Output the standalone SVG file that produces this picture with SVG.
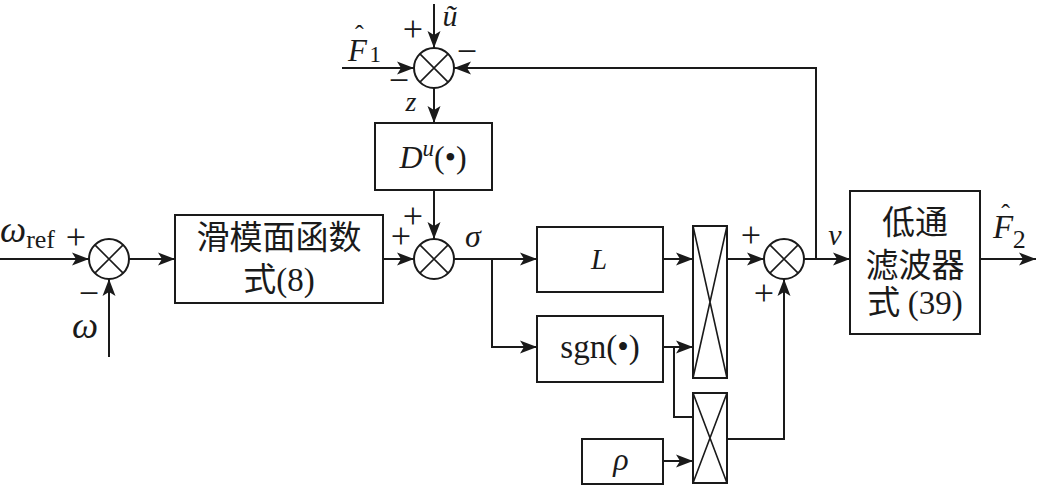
<svg xmlns="http://www.w3.org/2000/svg" width="1040" height="486" viewBox="0 0 1040 486">
<defs>
<marker id="ar" markerUnits="userSpaceOnUse" markerWidth="18" markerHeight="14" refX="17" refY="7" orient="auto">
<path d="M0,0.5 L17,7 L0,13.5 L4,7 z" fill="#1a1a1a"/>
</marker>
<style>
.ln{fill:none;stroke:#1a1a1a;stroke-width:2}
.bx{fill:#fff;stroke:#1a1a1a;stroke-width:2}
.x{stroke:#1a1a1a;stroke-width:1.6}
.t{font-family:"Liberation Serif","Times New Roman",serif;fill:#1a1a1a}
.i{font-style:italic}
.cj{font-family:"Noto Sans CJK SC",sans-serif;fill:#1a1a1a;font-size:33px}
.pm{font-family:"Liberation Serif","Times New Roman",serif;font-size:36px;fill:#1a1a1a;text-anchor:middle}
</style>
</defs>
<rect width="1040" height="486" fill="#fff"/>

<g id="connectors">
<path class="ln" d="M0,259 H89" marker-end="url(#ar)"/>
<path class="ln" d="M109,357 V279" marker-end="url(#ar)"/>
<path class="ln" d="M129,259 H175" marker-end="url(#ar)"/>
<path class="ln" d="M383,259 H414" marker-end="url(#ar)"/>
<path class="ln" d="M434,190 V239" marker-end="url(#ar)"/>
<path class="ln" d="M454,259 H537" marker-end="url(#ar)"/>
<path class="ln" d="M492,259 V347 H537" marker-end="url(#ar)"/>
<path class="ln" d="M663,259 H693" marker-end="url(#ar)"/>
<path class="ln" d="M663,347 H693" marker-end="url(#ar)"/>
<path class="ln" d="M674,347 V417 H693"/>
<path class="ln" d="M663,461 H693" marker-end="url(#ar)"/>
<path class="ln" d="M727,259 H764" marker-end="url(#ar)"/>
<path class="ln" d="M727,439 H784 V279" marker-end="url(#ar)"/>
<path class="ln" d="M804,259 H850" marker-end="url(#ar)"/>
<path class="ln" d="M816,259 V68 H454" marker-end="url(#ar)"/>
<path class="ln" d="M342,68 H414" marker-end="url(#ar)"/>
<path class="ln" d="M434,4 V48" marker-end="url(#ar)"/>
<path class="ln" d="M434,88 V123" marker-end="url(#ar)"/>
<path class="ln" d="M980,259 H1036" marker-end="url(#ar)"/>
</g>

<g id="sum1">
<circle class="bx" cx="109" cy="259" r="20"/>
<path class="x" d="M94.9,244.9 L123.1,273.1 M123.1,244.9 L94.9,273.1"/>
</g>
<g id="sumTop">
<circle class="bx" cx="434" cy="68" r="20"/>
<path class="x" d="M419.9,53.9 L448.1,82.1 M448.1,53.9 L419.9,82.1"/>
</g>
<g id="sum2">
<circle class="bx" cx="434" cy="259" r="20"/>
<path class="x" d="M419.9,244.9 L448.1,273.1 M448.1,244.9 L419.9,273.1"/>
</g>
<g id="sum3">
<circle class="bx" cx="784" cy="259" r="20"/>
<path class="x" d="M769.9,244.9 L798.1,273.1 M798.1,244.9 L769.9,273.1"/>
</g>

<g id="smc">
<rect class="bx" x="175" y="215" width="208" height="88"/>
<text class="cj" x="279" y="249" text-anchor="middle">滑模面函数</text>
<text class="cj" x="279" y="291" text-anchor="middle">式<tspan style="font-family:'Liberation Serif','Times New Roman',serif">(8)</tspan></text>
</g>

<g id="du">
<rect class="bx" x="375" y="123" width="117" height="67"/>
<text class="t" x="433" y="168" font-size="32" text-anchor="middle"><tspan class="i">D</tspan><tspan class="i" font-size="23" dy="-12">u</tspan><tspan dy="12">(•)</tspan></text>
</g>

<g id="Lbox">
<rect class="bx" x="537" y="227" width="126" height="65"/>
<text class="t i" x="599" y="269" font-size="29" text-anchor="middle">L</text>
</g>

<g id="sgn">
<rect class="bx" x="537" y="316" width="126" height="66"/>
<text class="t" x="600" y="358" font-size="33" text-anchor="middle">sgn(•)</text>
</g>

<g id="rho">
<rect class="bx" x="582" y="439" width="81" height="45"/>
<text class="t i" x="621" y="470" font-size="32" text-anchor="middle">ρ</text>
</g>

<g id="mult1">
<rect class="bx" x="693" y="226" width="34" height="152"/>
<path class="x" d="M693,226 L727,378 M727,226 L693,378"/>
</g>
<g id="mult2">
<rect class="bx" x="693" y="393" width="34" height="90"/>
<path class="x" d="M693,393 L727,483 M727,393 L693,483"/>
</g>

<g id="lpf">
<rect class="bx" x="850" y="191" width="130" height="143"/>
<text class="cj" x="915" y="234" text-anchor="middle">低通</text>
<text class="cj" x="915" y="277" text-anchor="middle">滤波器</text>
<text class="cj" x="915" y="314" text-anchor="middle">式 <tspan style="font-family:'Liberation Serif','Times New Roman',serif">(39)</tspan></text>
</g>

<g id="labels">
<text class="t" x="0" y="242" font-size="37"><tspan class="i">ω</tspan><tspan font-size="26" dy="6">ref</tspan></text>
<text class="pm" x="76" y="249">+</text>
<text class="pm" x="89" y="305">−</text>
<text class="t i" x="85" y="338" font-size="37" text-anchor="middle">ω</text>

<text class="t i" x="348" y="61" font-size="31">F<tspan font-style="normal" font-size="26" dx="-12" dy="-18">ˆ</tspan><tspan font-style="normal" font-size="23" dx="6" dy="19">1</tspan></text>
<text class="pm" x="413" y="41">+</text>
<text class="t i" x="450" y="26" font-size="30" text-anchor="middle">ũ</text>
<text class="pm" x="467" y="63">−</text>
<text class="pm" x="399" y="92">−</text>
<text class="t i" x="411" y="111" font-size="28" text-anchor="middle">z</text>

<text class="pm" x="413" y="228">+</text>
<text class="pm" x="401" y="248">+</text>
<text class="t i" x="473" y="247" font-size="32" text-anchor="middle">σ</text>

<text class="pm" x="751" y="247">+</text>
<text class="pm" x="764" y="305">+</text>
<text class="t i" x="835" y="245" font-size="30" text-anchor="middle">v</text>

<text class="t i" x="993" y="238" font-size="33">F<tspan font-style="normal" font-size="26" dx="-12" dy="-16">ˆ</tspan><tspan font-style="normal" font-size="26" dx="3" dy="26">2</tspan></text>
</g>
</svg>
